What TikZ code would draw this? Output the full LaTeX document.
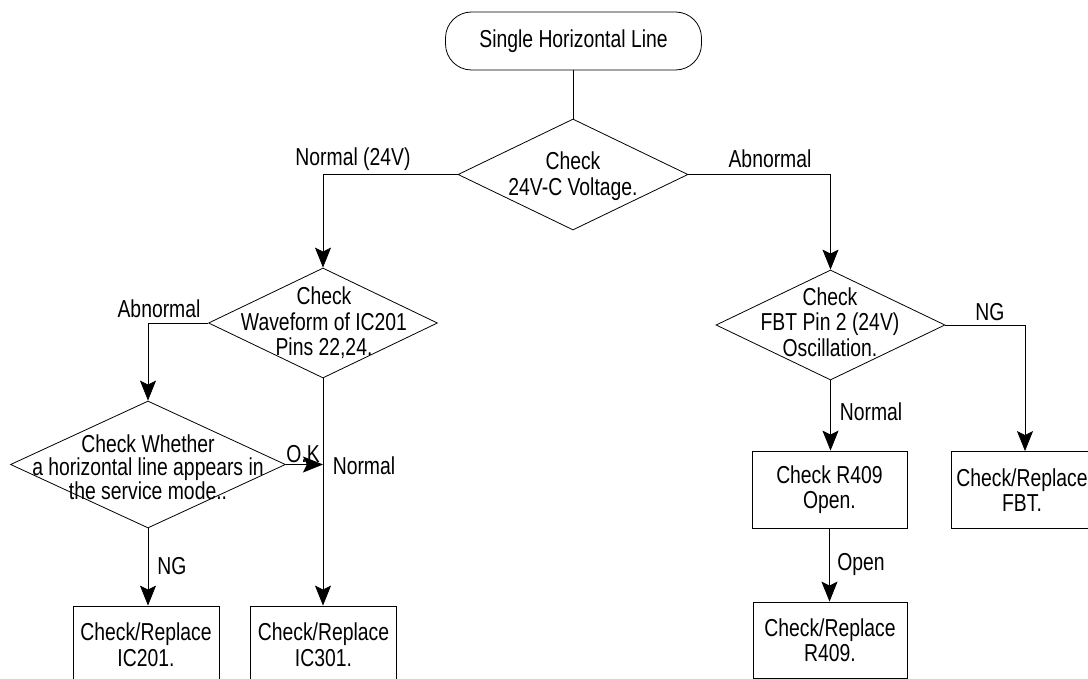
\documentclass[tikz,border=0pt]{standalone}
\usepackage{fontspec}
\setmainfont{Liberation Sans}[FakeStretch=0.79]
\usetikzlibrary{shapes.geometric,arrows.meta}
\begin{document}
\begin{tikzpicture}[x=1pt,y=-1pt,
  fnt/.style={font=\fontsize{24.5}{25.5}\selectfont},
  box/.style={draw, line width=0.8pt, minimum width=146pt, minimum height=77pt, align=center, inner sep=0pt, fnt},
  dia/.style={draw, diamond, line width=0.8pt, inner sep=0pt},
  txt/.style={align=center, inner sep=0pt, fnt},
  conn/.style={line width=0.8pt},
  arr/.style={line width=0.8pt, -{Stealth[length=20pt,width=16pt,inset=4pt]}}]
\clip (0,0) rectangle (1088,679);
\fill[white] (0,0) rectangle (1088,679);
% start
\node[draw, rounded corners=26pt, minimum width=256pt, minimum height=58pt, fnt, line width=0.8pt] (start) at (573.5,41) {Single Horizontal Line};
% decisions
\node[dia, minimum width=230pt, minimum height=111pt] (d1) at (573,174.5) {};
\node[txt] (t1) at (573,176) {Check\\24V-C Voltage.};
\node[dia, minimum width=229pt, minimum height=110pt] (d2) at (323,323) {};
\node[txt] (t2) at (324,323) {Check\\Waveform of IC201\\Pins 22,24.};
\node[dia, minimum width=229pt, minimum height=110pt] (d3) at (830.5,325) {};
\node[txt] (t3) at (830,322) {Check\\FBT Pin 2 (24V)\\Oscillation.};
\node[dia, minimum width=275pt, minimum height=127pt] (d4) at (148,464.5) {};
\node[txt, font=\fontsize{24.5}{23.5}\selectfont] (t4) at (148,467) {Check Whether\\a horizontal line appears in\\the service mode..};
% boxes
\node[box] (b1) at (146,644.5) {Check/Replace\\IC201.};
\node[box] (b2) at (323.5,644.5) {Check/Replace\\IC301.};
\node[box, minimum width=155pt] (b3) at (829.5,489.5) {Check R409\\Open.};
\node[box, minimum width=148pt] (b4) at (1025,490) {};
\node[txt] (t5) at (1022,490) {Check/Replace\\FBT.};
\node[box, minimum width=154pt, minimum height=76pt] (b5) at (830,640) {Check/Replace\\R409.};
% connectors
\draw[conn] (start.south) -- (start.south |- d1.north);
\draw[arr] (d1.west) -| (d2.north);
\draw[arr] (d1.east) -| (d3.north);
\draw[arr] (d2.west) -| (d4.north);
\draw[arr] (d2.south) -- (d2.south |- b2.north);
\draw[arr] (d4.east) -- (d4.east -| d2.south);
\draw[arr] (d4.south) -- (d4.south |- b1.north);
\draw[arr] (d3.east) -| (b4.north);
\draw[arr] (d3.south) -- (d3.south |- b3.north);
\draw[arr] (b3.south) -- (b3.south |- b5.north);
% labels
\node[txt] (l1) at (353,159) {Normal (24V)};
\node[txt] (l2) at (770,159) {Abnormal};
\node[txt] (l3) at (159,309) {Abnormal};
\node[txt] (l4) at (990,312) {NG};
\node[txt] (l5) at (871,412) {Normal};
\node[txt] (l6) at (172,566) {NG};
\node[txt] (l7) at (303,454) {O.K};
\node[txt] (l8) at (364,466) {Normal};
\node[txt] (l9) at (861,564) {Open};
\end{tikzpicture}
\end{document}
